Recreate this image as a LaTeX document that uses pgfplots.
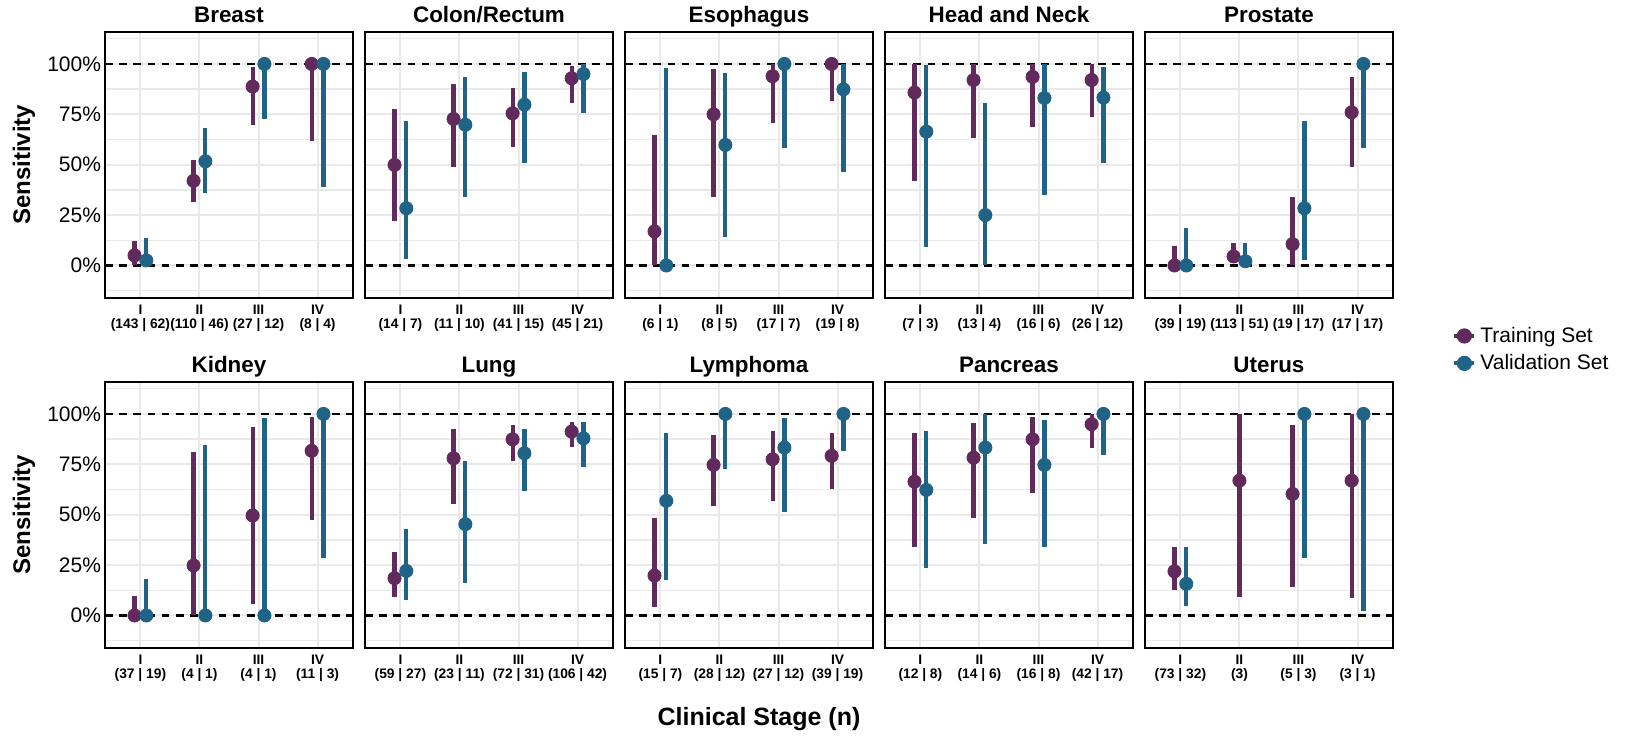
\documentclass[border=0pt]{standalone}
\usepackage{fontspec}
\setmainfont{Liberation Sans}
\usepackage{pgfplots}
\usepackage{pgfplotstable}
\pgfplotsset{compat=1.18}
\usepgfplotslibrary{groupplots}

\definecolor{trncol}{RGB}{98,42,92}
\definecolor{valcol}{RGB}{31,100,135}
\definecolor{gridc}{RGB}{233,233,233}

% stage, training (point, low, high), validation (point, low, high) in %
\pgfplotstableread{
s t tlo thi v vlo vhi
1 5 0 12 2.5 0 13.5
2 42 31.7 52.4 51.7 36.2 68
3 88.8 69.8 98.3 100 72.7 100
4 100 61.8 100 100 38.8 100
}\breast
\pgfplotstableread{
s t tlo thi v vlo vhi
1 49.9 22.3 77.7 28.4 3 71.7
2 72.7 49.1 89.9 69.8 34.2 93.7
3 75.5 59 87.9 79.8 51 96.2
4 92.9 80.8 99.2 95 75.5 100
}\colon
\pgfplotstableread{
s t tlo thi v vlo vhi
1 16.9 0 64.8 0 0 98.2
2 75 34.2 97.5 59.8 13.9 95.4
3 93.9 70.6 100 100 58.2 100
4 100 81.7 100 87.4 46.6 100
}\esoph
\pgfplotstableread{
s t tlo thi v vlo vhi
1 85.8 41.7 100 66.4 9.4 99.5
2 92 63.1 100 25 0 80.8
3 93.6 68.9 100 83.1 35 100
4 92 73.9 100 83.3 50.7 98.7
}\headneck
\pgfplotstableread{
s t tlo thi v vlo vhi
1 0 0 9.9 0 0 18.5
2 4.5 1.2 11 2.1 0 11
3 10.6 0 33.9 28.4 2.8 71.7
4 76 49.1 93.7 100 58.2 100
}\prostate
\pgfplotstableread{
s t tlo thi v vlo vhi
1 0 0 9.9 0 0 18.2
2 24.8 0 81 0 0 84.6
3 49.6 5.6 93.7 0 0 97.9
4 81.7 47.4 98.3 100 28.4 100
}\kidney
\pgfplotstableread{
s t tlo thi v vlo vhi
1 18.5 9.1 31.4 22.1 7.8 42.8
2 78 55.4 92.6 45.3 16 76.9
3 87.4 76.7 94.5 80.5 61.8 92.6
4 91.2 83.5 96.2 87.9 73.6 96.2
}\lung
\pgfplotstableread{
s t tlo thi v vlo vhi
1 19.8 4 48.3 56.9 17.7 90.4
2 74.7 54.4 89.6 100 72.7 100
3 77.5 57 91.7 83.3 51.1 98.2
4 79.2 62.8 90.7 100 81.7 100
}\lymph
\pgfplotstableread{
s t tlo thi v vlo vhi
1 66.4 34.2 90.4 62.3 23.8 91.7
2 78.3 48.6 95.7 83.3 35.4 100
3 87.4 60.9 98.7 74.7 34.2 97
4 94.9 83.3 100 100 79.7 100
}\pancreas
% uterus: stage II has no validation cases
\pgfplotstableread{
x y lo hi
0.9 21.9 12.7 33.8
2 66.9 9.4 100
2.9 60.3 14 94.7
3.9 66.9 8.7 100
}\uterusT
\pgfplotstableread{
x y lo hi
1.1 15.7 4.9 33.8
3.1 100 28.5 100
4.1 100 2.1 100
}\uterusV

\pgfplotsset{
  ptrange/.style={only marks, mark=*, mark size=3.3pt, color=#1,
    error bars/y dir=both, error bars/y explicit,
    error bars/error mark=none,
    error bars/error bar style={line width=2.1pt, color=#1},
    legend image code/.code={
      \draw[line width=2pt,#1] (0pt,0pt) -- (10pt,0pt);
      \fill[#1] (5pt,0pt) circle (3.6pt);}},
  refline/.style={black, line width=1.1pt, dash pattern=on 3.8pt off 3.3pt, forget plot},
  leftcol/.style={yticklabels={0\%,25\%,50\%,75\%,100\%}, ylabel={Sensitivity}},
}

\newcommand{\panel}[4]{%
  \nextgroupplot[title={#1}, xticklabels={#3}, #4]
  \addplot[refline] coordinates {(0.4,0) (4.6,0)};
  \addplot[refline] coordinates {(0.4,100) (4.6,100)};
  \addplot[ptrange=trncol] table[x expr=\thisrow{s}-0.1, y=t,
    y error plus expr=\thisrow{thi}-\thisrow{t},
    y error minus expr=\thisrow{t}-\thisrow{tlo}] {#2};
  \addplot[ptrange=valcol] table[x expr=\thisrow{s}+0.1, y=v,
    y error plus expr=\thisrow{vhi}-\thisrow{v},
    y error minus expr=\thisrow{v}-\thisrow{vlo}] {#2};
}

\begin{document}
\begin{tikzpicture}
\begin{groupplot}[
  group style={group size=5 by 2, horizontal sep=6pt, vertical sep=42pt},
  width=124pt, height=133pt, scale only axis,
  xmin=0.4, xmax=4.6, ymin=-16, ymax=116,
  xtick={1,2,3,4}, ytick={0,25,50,75,100}, yticklabels={},
  minor ytick={-12.5,12.5,37.5,62.5,87.5,112.5},
  xmajorgrids, ymajorgrids, yminorgrids,
  major grid style={gridc, line width=1pt},
  minor grid style={gridc, line width=0.7pt},
  major tick length=0pt, minor tick length=0pt,
  axis line style={line width=1pt},
  every axis title shift=0pt,
  title style={font=\bfseries\fontsize{11.2}{13}\selectfont, inner sep=0pt,
    at={(axis description cs:0.5,1)}, anchor=base, yshift=4.6pt},
  xticklabel style={font=\bfseries\fontsize{6.9}{6.8}\selectfont, align=center,
    inner sep=0pt, yshift=-3.4pt},
  yticklabel style={font=\fontsize{10.5}{12}\selectfont, inner sep=0pt, xshift=-1.8pt},
  ylabel style={font=\bfseries\fontsize{12}{14}\selectfont, inner sep=0pt,
    at={(axis description cs:-0.327,0.5)}, anchor=center},
  legend style={draw=none, fill=none, inner sep=0pt,
    font=\fontsize{10.5}{12}\selectfont, row sep=0.6pt,
    at={(1.238,-0.093)}, anchor=north west},
  legend cell align=left,
]
\panel{Breast}{\breast}{{I\\(143 | 62)},{II\\(110 | 46)},{III\\(27 | 12)},{IV\\(8 | 4)}}{leftcol}
\coordinate (tl) at (rel axis cs:0,1);
\panel{Colon/Rectum}{\colon}{{I\\(14 | 7)},{II\\(11 | 10)},{III\\(41 | 15)},{IV\\(45 | 21)}}{}
\panel{Esophagus}{\esoph}{{I\\(6 | 1)},{II\\(8 | 5)},{III\\(17 | 7)},{IV\\(19 | 8)}}{}
\panel{Head and Neck}{\headneck}{{I\\(7 | 3)},{II\\(13 | 4)},{III\\(16 | 6)},{IV\\(26 | 12)}}{}
\panel{Prostate}{\prostate}{{I\\(39 | 19)},{II\\(113 | 51)},{III\\(19 | 17)},{IV\\(17 | 17)}}{}
\legend{Training Set, Validation Set}
\panel{Kidney}{\kidney}{{I\\(37 | 19)},{II\\(4 | 1)},{III\\(4 | 1)},{IV\\(11 | 3)}}{leftcol}
\panel{Lung}{\lung}{{I\\(59 | 27)},{II\\(23 | 11)},{III\\(72 | 31)},{IV\\(106 | 42)}}{}
\panel{Lymphoma}{\lymph}{{I\\(15 | 7)},{II\\(28 | 12)},{III\\(27 | 12)},{IV\\(39 | 19)}}{}
\panel{Pancreas}{\pancreas}{{I\\(12 | 8)},{II\\(14 | 6)},{III\\(16 | 8)},{IV\\(42 | 17)}}{}
\nextgroupplot[title={Uterus}, xticklabels={{I\\(73 | 32)},{II\\(3)},{III\\(5 | 3)},{IV\\(3 | 1)}}]
\addplot[refline] coordinates {(0.4,0) (4.6,0)};
\addplot[refline] coordinates {(0.4,100) (4.6,100)};
\addplot[ptrange=trncol] table[x=x, y=y,
  y error plus expr=\thisrow{hi}-\thisrow{y},
  y error minus expr=\thisrow{y}-\thisrow{lo}] {\uterusT};
\addplot[ptrange=valcol] table[x=x, y=y,
  y error plus expr=\thisrow{hi}-\thisrow{y},
  y error minus expr=\thisrow{y}-\thisrow{lo}] {\uterusV};
\end{groupplot}
\node[font=\bfseries\fontsize{12.5}{14}\selectfont, inner sep=0pt] at ([shift={(327pt,-343.6pt)}]tl) {Clinical Stage (n)};
\path ([shift={(-52.5pt,15.85pt)}]tl) rectangle ([shift={(761.5pt,-352.15pt)}]tl);
\end{tikzpicture}
\end{document}
